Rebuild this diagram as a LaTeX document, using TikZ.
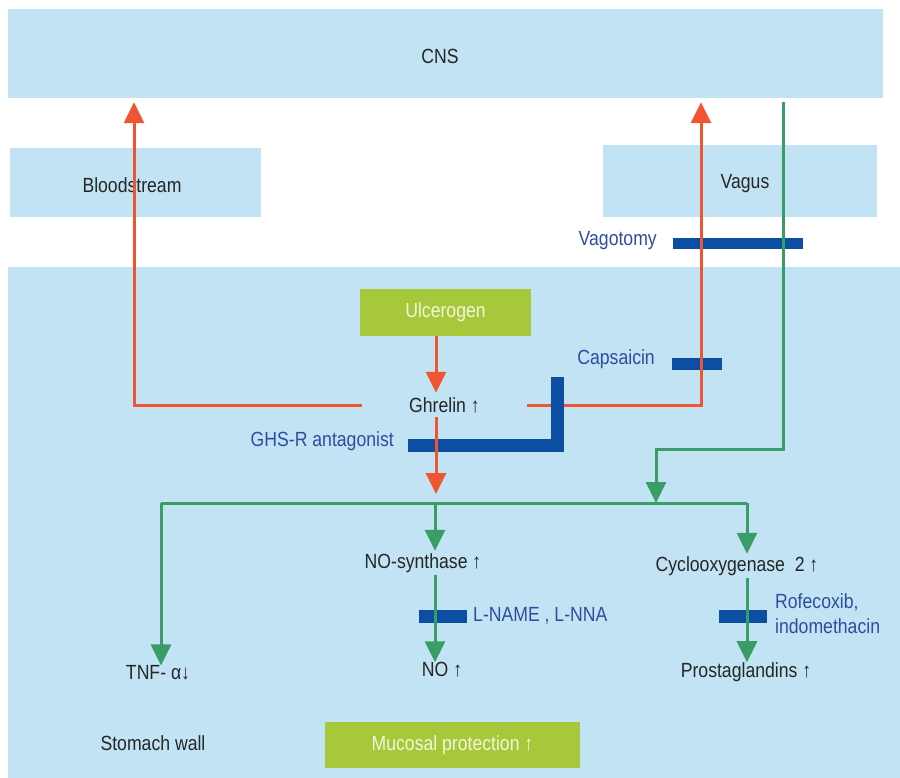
\documentclass[tikz,border=0pt]{standalone}
\usepackage{fontspec}
\setmainfont[FakeStretch=0.86]{Liberation Sans}
\usetikzlibrary{arrows.meta}
\definecolor{lblue}{HTML}{C2E3F4}
\definecolor{redc}{HTML}{EE5530}
\definecolor{greenc}{HTML}{3A9D68}
\definecolor{barc}{HTML}{0B4EA2}
\definecolor{btext}{HTML}{2E4D9E}
\definecolor{lime}{HTML}{A7C83B}
\definecolor{limetext}{HTML}{F2F6DA}
\begin{document}
\begin{tikzpicture}[x=1pt,y=-1pt,
  box/.style={fill=lblue, draw=none, inner sep=0pt, font=\fontsize{20.5}{22}\selectfont},
  gbox/.style={fill=lime, draw=none, inner sep=0pt, text=limetext, font=\fontsize{20.5}{22}\selectfont},
  lbl/.style={inner sep=0pt, text=black!85, font=\fontsize{20.5}{22}\selectfont},
  blbl/.style={inner sep=0pt, text=btext, font=\fontsize{20.5}{22}\selectfont},
  bar/.style={fill=barc, draw=none},
  redline/.style={draw=redc, line width=3pt},
  greenline/.style={draw=greenc, line width=3pt},
  redarrow/.style={redline, -{Triangle[width=20pt,length=21pt]}},
  greenarrow/.style={greenline, -{Triangle[width=20pt,length=21pt]}},
]
\useasboundingbox (0,0) rectangle (900,778);
% background regions
\node[box, minimum width=875, minimum height=89] (cns) at (445.5,53.5) {};
\node[lbl] (cnst) at (440,56) {CNS};
\node[box, minimum width=251, minimum height=69] (blood) at (135.5,182.5) {};
\node[lbl, anchor=center] (bloodt) at (132,185) {Bloodstream};
\node[box, minimum width=274, minimum height=72] (vagus) at (740,181) {};
\node[lbl] (vagust) at (745,184) {Vagus};
\node[box, minimum width=892, minimum height=511] (stomach) at (454,522.5) {};
\node[lbl] (stomacht) at (153,743) {Stomach wall};
% green boxes
\node[gbox, minimum width=171, minimum height=47] (ulcer) at (445.5,312.5) {Ulcerogen};
\node[gbox, minimum width=255, minimum height=46] (mucosal) at (452.5,745) {Mucosal protection ↑};
% text nodes
\node[lbl, minimum width=165, minimum height=24] (ghrelin) at (444.5,405) {Ghrelin ↑};
\node[lbl, minimum height=24] (nos) at (423,563) {NO-synthase ↑};
\node[lbl, minimum height=24] (cox) at (737,566) {Cyclooxygenase\ \ 2 ↑};
\node[lbl] (tnf) at (158,673) {TNF- α↓};
\node[lbl] (no) at (442,670) {NO ↑};
\node[lbl] (prost) at (746,672) {Prostaglandins ↑};
\node[blbl, anchor=east] (vagotomy) at (657,241) {Vagotomy};
\node[blbl, anchor=east] (capsaicin) at (655,359) {Capsaicin};
\node[blbl, anchor=east] (ghsr) at (394,441) {GHS-R\ antagonist};
\node[blbl, anchor=west] (lname) at (473,616) {L-NAME , L-NNA};
\node[blbl, anchor=west, align=left, font=\fontsize{20.5}{25}\selectfont] (rofe) at (775,614) {Rofecoxib,\\indomethacin};
% coordinates
\coordinate (junc) at (656,503);
\coordinate (jl) at (161,503);
\coordinate (jm) at (435,503);
\coordinate (jr) at (747,503);
\coordinate (bend) at (783,449);
% inhibitor bars
\fill[bar] (673,238) rectangle (803,249);
\fill[bar] (672,358) rectangle (722,370);
\fill[bar] (419,610) rectangle (467,623);
\fill[bar] (719,610) rectangle (767,623);
% red pathways
\draw[redarrow, shorten >=4pt] (ghrelin.west) -| (cns.south -| 134,0);
\draw[redarrow, shorten >=4pt] (ghrelin.east) -| (cns.south -| 701,0);
\draw[redarrow] (ulcer.south -| 436,0) -- (ghrelin.north -| 436,0);
% GHS-R antagonist bar
\draw[barc, line width=13pt, line join=miter] (408,445.5) -- (557.5,445.5) -- (557.5,377);
\draw[redarrow] (ghrelin.south -| 436,0) -- (436,494);
% green pathways
\draw[greenarrow, shorten <=4pt] (cns.south -| bend) -- (bend) -| (junc);
\draw[greenline] (jl) -- (jr);
\draw[greenarrow] (jl) -- (tnf.north -| jl);
\draw[greenarrow] (jm) -- (nos.north -| jm);
\draw[greenarrow] (jr) -- (cox.north -| jr);
\draw[greenarrow] (nos.south -| jm) -- (no.north -| jm);
\draw[greenarrow] (cox.south -| jr) -- (prost.north -| jr);
\end{tikzpicture}
\end{document}
